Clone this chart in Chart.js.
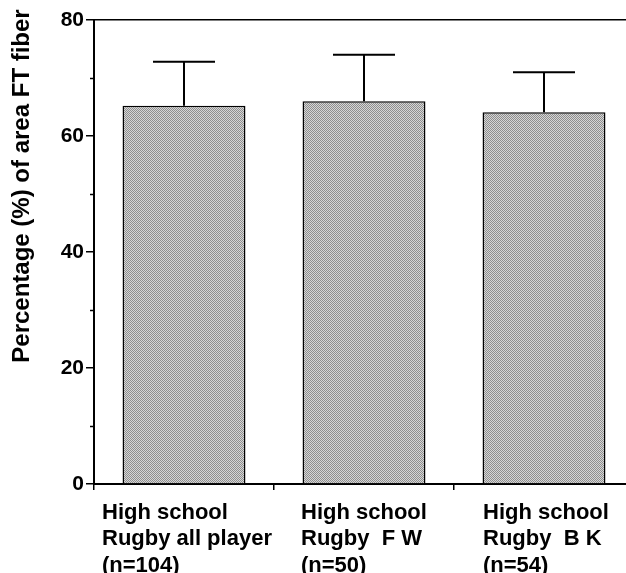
<!DOCTYPE html>
<html>
<head>
<meta charset="utf-8">
<script src="https://cdn.jsdelivr.net/npm/chart.js@4/dist/chart.umd.min.js"></script>
<style>
  html, body { margin: 0; padding: 0; background: #fff; overflow: hidden; }
  #wrap { width: 640px; height: 573px; position: relative; }
</style>
</head>
<body>
<div id="wrap"><canvas id="c" width="640" height="573"></canvas></div>
<script>
// ---- data ----
const categories = [
  ["High school", "Rugby all player", "(n=104)"],
  ["High school", "Rugby  F W", "(n=50)"],
  ["High school", "Rugby  B K", "(n=54)"]
];
const meanValues = [65.2, 66.0, 64.1];
const sdValues = [7.6, 8.0, 6.9];
const yTicks = [0, 20, 40, 60, 80];
const yMinorTicks = [10, 30, 50, 70];
const yTitle = "Percentage (%) of area FT fiber";

// ---- styling helpers ----
function makePattern() {
  const p = document.createElement('canvas');
  p.width = 2; p.height = 2;
  const g = p.getContext('2d');
  g.fillStyle = '#d6d6d6'; g.fillRect(0, 0, 2, 2);
  g.fillStyle = '#8e8e8e'; g.fillRect(0, 0, 1, 1); g.fillRect(1, 1, 1, 1);
  return document.getElementById('c').getContext('2d').createPattern(p, 'repeat');
}

const FONT = "'Liberation Sans', Arial, Helvetica, sans-serif";
const labelOffsets = [-82, -63, -61];
const labelBaselines = [518.5, 545, 571.5];

const errorBarPlugin = {
  id: 'errorBars',
  afterDatasetsDraw(chart) {
    const meta = chart.getDatasetMeta(0);
    const y = chart.scales.y;
    const ctx = chart.ctx;
    ctx.save();
    ctx.strokeStyle = '#000';
    ctx.lineWidth = 2;
    meta.data.forEach((bar, i) => {
      const yTop = y.getPixelForValue(meanValues[i] + sdValues[i]);
      const yBar = y.getPixelForValue(meanValues[i]);
      const half = 31;
      ctx.beginPath();
      ctx.moveTo(bar.x, yBar);
      ctx.lineTo(bar.x, yTop);
      ctx.moveTo(bar.x - half, yTop);
      ctx.lineTo(bar.x + half, yTop);
      ctx.stroke();
    });
    ctx.restore();
  }
};

const textPlugin = {
  id: 'extraText',
  afterDraw(chart) {
    const y = chart.scales.y;
    const x = chart.scales.x;
    const ctx = chart.ctx;
    const left = chart.chartArea.left;
    ctx.save();
    ctx.strokeStyle = '#000';
    ctx.lineWidth = 1.5;
    yMinorTicks.forEach(v => {
      const py = Math.round(y.getPixelForValue(v)) + 0.5;
      ctx.beginPath();
      ctx.moveTo(left - 4, py);
      ctx.lineTo(left, py);
      ctx.stroke();
    });
    // category labels (left-aligned lines, block placed under each bar)
    ctx.fillStyle = '#000';
    ctx.font = "bold 22px " + FONT;
    ctx.textAlign = 'left';
    ctx.textBaseline = 'alphabetic';
    categories.forEach((lines, i) => {
      const px = x.getPixelForTick(i) + labelOffsets[i];
      lines.forEach((line, j) => ctx.fillText(line, px, labelBaselines[j]));
    });
    // rotated y title
    ctx.font = "bold 24px " + FONT;
    ctx.translate(22, 186);
    ctx.rotate(-Math.PI / 2);
    ctx.textAlign = 'center';
    ctx.textBaseline = 'middle';
    ctx.fillText(yTitle, 0, 0);
    ctx.restore();
  }
};

const chart = new Chart(document.getElementById('c'), {
  type: 'bar',
  data: {
    labels: categories,
    datasets: [{
      data: meanValues,
      backgroundColor: makePattern(),
      borderColor: '#000',
      borderWidth: 1.5,
      borderSkipped: 'bottom',
      categoryPercentage: 1.0,
      barPercentage: 0.683
    }]
  },
  options: {
    responsive: false,
    animation: false,
    devicePixelRatio: 1,
    layout: { padding: { left: 0, right: 6, top: 0, bottom: 0 } },
    plugins: { legend: { display: false }, tooltip: { enabled: false } },
    scales: {
      x: {
        position: 'bottom',
        afterFit(s) { s.height = 89; s.paddingLeft = 0; s.paddingRight = 0; },
        grid: { display: true, drawOnChartArea: false, offset: true, tickLength: 6, color: '#000', lineWidth: 1.5 },
        border: { display: true, color: '#000', width: 2 },
        ticks: { display: false }
      },
      xTop: {
        position: 'top',
        afterFit(s) { s.height = 20; s.paddingLeft = 0; s.paddingRight = 0; },
        grid: { display: false },
        border: { display: true, color: '#000', width: 1.5 },
        ticks: { display: false }
      },
      y: {
        min: 0, max: 80,
        afterFit(s) { s.width = 94; },
        afterBuildTicks(s) { s.ticks = yTicks.map(v => ({ value: v })); },
        grid: { display: true, drawOnChartArea: false, tickLength: 8, color: '#000', lineWidth: 1.5 },
        border: { display: true, color: '#000', width: 2 },
        ticks: {
          color: '#000',
          padding: 2,
          font: { family: FONT, size: 21, weight: 'bold' }
        }
      }
    }
  },
  plugins: [errorBarPlugin, textPlugin]
});
</script>
</body>
</html>
